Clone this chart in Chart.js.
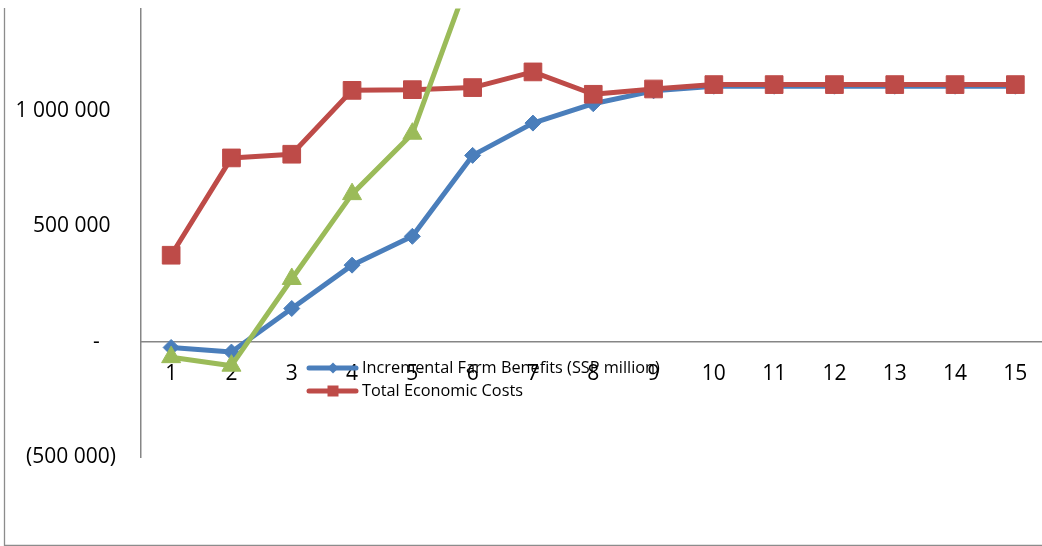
<!DOCTYPE html>
<html>
<head>
<meta charset="utf-8">
<script src="https://cdn.jsdelivr.net/npm/chart.js@4/dist/chart.umd.min.js"></script>
<style>
  html, body { margin: 0; padding: 0; background: #fff; }
  #wrap { position: relative; width: 1042px; height: 546px; overflow: hidden; }
  #chart { position: absolute; left: 0; top: -5px; }
</style>
</head>
<body>
<div id="wrap"><canvas id="chart" width="1059" height="551"></canvas></div>
<script>
// Years of the project horizon
const years = ['1','2','3','4','5','6','7','8','9','10','11','12','13','14','15'];

// Incremental farm benefits (SSP million)
const farmBenefits = [-25000, -45000, 144000, 332000, 457000, 808000, 948000, 1032000, 1088000,
                      1108000, 1108000, 1108000, 1108000, 1108000, 1108000];

// Total economic costs
const economicCosts = [375000, 797000, 813000, 1090000, 1093000, 1102000, 1170000, 1073000, 1096000,
                       1115000, 1115000, 1115000, 1115000, 1115000, 1115000];

// Third series (runs off the top of the plot after year 5)
const thirdSeries = [-67000, -104000, 272000, 640000, 902000, 1620000,
                     null, null, null, null, null, null, null, null, null];

// Value axis
const yTicks = [-500000, 0, 500000, 1000000];
const yMin = -500000;
const yMax = 1445000;

const FONT = '"Open Sans", "Liberation Sans", sans-serif';
const BLUE = '#4a7ebb';
const RED = '#be4b48';
const GREEN = '#9bbb59';
const AXIS = '#868686';

// Accounting-style tick text: thousands separated by spaces, negatives in brackets, zero as a dash
function accounting(v) {
  if (v === 0) return '-   ';
  const s = Math.abs(v).toString().replace(/\B(?=(\d{3})+(?!\d))/g, ' ');
  return v < 0 ? '(' + s + ')' : s + ' ';
}

// Outer frame of the chart object (left and bottom edges)
const framePlugin = {
  id: 'frame',
  beforeDraw(chart) {
    const ctx = chart.ctx;
    ctx.save();
    ctx.strokeStyle = '#8c8c8c';
    ctx.lineWidth = 1.3;
    ctx.beginPath();
    ctx.moveTo(4.5, 13);
    ctx.lineTo(4.5, 550.5);
    ctx.lineTo(chart.width, 550.5);
    ctx.stroke();
    ctx.restore();
  }
};

// Legend drawn inside the plot, just under the category axis
const legendPlugin = {
  id: 'innerLegend',
  afterDraw(chart) {
    const ctx = chart.ctx;
    const entries = [
      { ds: chart.data.datasets[0], y: 373, marker: 'diamond' },
      { ds: chart.data.datasets[1], y: 396, marker: 'square' }
    ];
    ctx.save();
    entries.forEach(e => {
      const c = e.ds.borderColor;
      ctx.strokeStyle = c;
      ctx.lineWidth = 5;
      ctx.lineCap = 'round';
      ctx.beginPath();
      ctx.moveTo(309, e.y);
      ctx.lineTo(356, e.y);
      ctx.stroke();
      ctx.fillStyle = c;
      ctx.beginPath();
      if (e.marker === 'diamond') {
        ctx.moveTo(333, e.y - 5.5);
        ctx.lineTo(338.5, e.y);
        ctx.lineTo(333, e.y + 5.5);
        ctx.lineTo(327.5, e.y);
        ctx.closePath();
      } else {
        ctx.rect(327.5, e.y - 5.5, 11, 11);
      }
      ctx.fill();
      ctx.fillStyle = '#000';
      ctx.font = '16.3px ' + FONT;
      ctx.textAlign = 'left';
      ctx.textBaseline = 'middle';
      ctx.fillText(e.ds.label, 362, e.y);
    });
    ctx.restore();
  }
};

new Chart(document.getElementById('chart'), {
  type: 'line',
  data: {
    labels: years,
    datasets: [
      {
        label: 'Incremental Farm Benefits (SSP million)',
        data: farmBenefits,
        borderColor: BLUE,
        backgroundColor: BLUE,
        borderWidth: 5,
        pointStyle: 'rectRot',
        pointRadius: 8,
        pointBorderWidth: 1,
        order: 3
      },
      {
        label: 'Total Economic Costs',
        data: economicCosts,
        borderColor: RED,
        backgroundColor: RED,
        borderWidth: 5,
        pointStyle: 'rect',
        pointRadius: 12.5,
        pointBorderWidth: 1,
        order: 2
      },
      {
        label: 'Series 3',
        data: thirdSeries,
        borderColor: GREEN,
        backgroundColor: GREEN,
        borderWidth: 5,
        pointStyle: 'triangle',
        pointRadius: 11,
        pointBorderWidth: 1,
        order: 1
      }
    ]
  },
  options: {
    responsive: false,
    animation: false,
    devicePixelRatio: 1,
    layout: { padding: { left: 0, top: 8, right: 4, bottom: 89 } },
    elements: {
      line: { tension: 0, borderJoinStyle: 'round', borderCapStyle: 'round' }
    },
    plugins: {
      legend: { display: false },
      tooltip: { enabled: false }
    },
    scales: {
      x: {
        type: 'category',
        position: { y: 0 },
        offset: true,
        grid: { display: false, drawTicks: false },
        border: { display: true, color: AXIS, width: 1.5 },
        afterFit(scale) { scale.height = 0; scale.paddingLeft = 0; scale.paddingRight = 0; },
        ticks: {
          color: '#000',
          font: { family: FONT, size: 21 },
          padding: 20,
          maxRotation: 0,
          autoSkip: false
        }
      },
      y: {
        type: 'linear',
        position: 'left',
        min: yMin,
        max: yMax,
        grid: { display: false, drawTicks: false },
        border: { display: true, color: AXIS, width: 1.5 },
        afterFit(scale) { scale.width = 141; scale.paddingTop = 0; scale.paddingBottom = 0; },
        afterBuildTicks(scale) { scale.ticks = yTicks.map(v => ({ value: v })); },
        ticks: {
          color: '#000',
          font: { family: FONT, size: 21, lineHeight: 0.4 },
          padding: 25,
          callback: v => accounting(v)
        }
      }
    }
  },
  plugins: [framePlugin, legendPlugin]
});
</script>
</body>
</html>
